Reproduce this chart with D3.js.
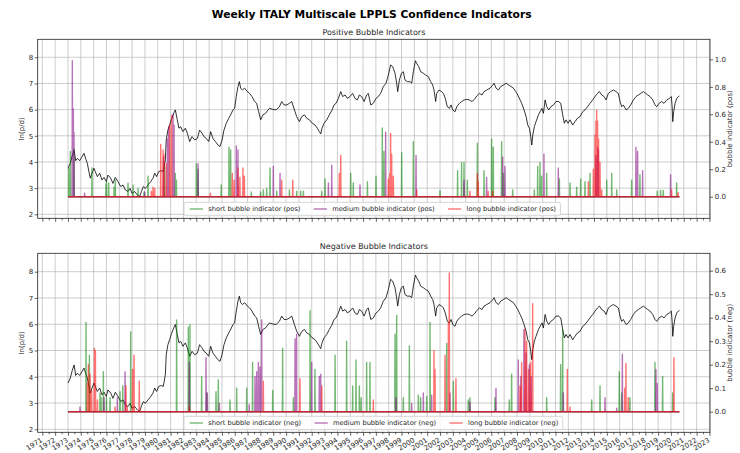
<!DOCTYPE html>
<html><head><meta charset="utf-8">
<script src="https://cdn.jsdelivr.net/npm/d3@7/dist/d3.min.js"></script>
<style>
body{margin:0;background:#fff;}
svg text{font-family:"DejaVu Sans",sans-serif;fill:#262626;}
</style></head><body>
<svg id="c" width="740" height="453"></svg>
<script>
// ---------------- data ----------------
const years = d3.range(1971, 2024);
const leftTicks = [2, 3, 4, 5, 6, 7, 8];
const posTicks = [0, 0.2, 0.4, 0.6, 0.8, 1.0];
const negTicks = [0, 0.1, 0.2, 0.3, 0.4, 0.5, 0.6];
const chartTitle = "Weekly ITALY Multiscale LPPLS Confidence Indicators";
const panelTitles = ["Positive Bubble Indicators", "Negative Bubble Indicators"];
const leftLabel = "ln(p/d)";
const rightLabels = ["bubble indicator (pos)", "bubble indicator (neg)"];
const posLegend = ["short bubble indicator (pos)", "medium bubble indicator (pos)", "long bubble indicator (pos)"];
const negLegend = ["short bubble indicator (neg)", "medium bubble indicator (neg)", "long bubble indicator (neg)"];

// ln(p/d), [year, value]
const price = [
[1973.00,3.76],[1973.18,3.95],[1973.34,4.25],[1973.48,4.45],[1973.60,4.05],[1973.73,4.14],[1973.91,4.05],[1974.07,4.18],[1974.25,4.33],[1974.40,4.10],[1974.51,3.95],[1974.61,3.69],[1974.74,3.38],[1974.87,3.57],[1975.03,3.76],[1975.13,3.63],[1975.29,3.44],[1975.47,3.57],[1975.65,3.31],[1975.81,3.41],[1975.99,3.25],[1976.12,3.50],[1976.33,3.38],[1976.51,3.18],[1976.69,3.41],[1976.90,3.25],[1977.11,3.06],[1977.29,3.12],[1977.47,2.93],[1977.68,2.87],[1977.84,2.99],[1977.99,2.80],[1978.20,2.87],[1978.41,2.74],[1978.59,2.68],[1978.72,2.87],[1978.88,3.06],[1979.03,2.99],[1979.24,3.12],[1979.45,3.25],[1979.63,3.38],[1979.76,3.57],[1979.91,3.44],[1980.07,3.63],[1980.27,3.67],[1980.43,3.63],[1980.59,4.08],[1980.66,4.84],[1980.79,5.22],[1980.92,5.41],[1981.05,5.61],[1981.24,5.86],[1981.37,5.99],[1981.52,5.61],[1981.65,5.29],[1981.78,5.35],[1981.96,5.16],[1982.15,5.29],[1982.30,5.10],[1982.49,4.78],[1982.67,4.97],[1982.88,4.84],[1983.09,4.90],[1983.26,5.22],[1983.45,5.10],[1983.60,4.97],[1983.78,4.90],[1983.97,4.78],[1984.12,5.16],[1984.30,4.90],[1984.49,4.78],[1984.69,4.65],[1984.85,4.59],[1985.01,4.84],[1985.16,5.22],[1985.34,5.48],[1985.53,5.67],[1985.68,5.80],[1985.86,5.99],[1985.99,6.05],[1986.12,6.50],[1986.25,6.88],[1986.36,7.07],[1986.46,6.82],[1986.59,6.75],[1986.77,6.82],[1986.98,6.69],[1987.16,6.62],[1987.34,6.50],[1987.55,6.31],[1987.71,6.24],[1987.86,5.92],[1988.02,5.61],[1988.20,5.80],[1988.40,5.86],
[1988.70,6.05],[1988.96,6.01],[1989.22,5.99],[1989.48,6.11],[1989.66,6.31],[1989.84,6.18],[1990.05,6.18],[1990.26,6.24],[1990.44,6.31],[1990.65,5.99],[1990.83,5.73],[1991.04,5.54],[1991.22,5.73],[1991.43,5.80],[1991.61,5.67],[1991.82,5.61],[1992.00,5.50],[1992.26,5.41],[1992.44,5.29],[1992.59,5.16],[1992.70,5.07],[1992.80,5.29],[1992.96,5.48],[1993.17,5.61],[1993.37,5.80],[1993.56,5.96],[1993.74,6.18],[1993.89,6.24],[1994.08,6.43],[1994.26,6.69],[1994.41,6.50],[1994.60,6.56],[1994.78,6.43],[1994.98,6.50],[1995.19,6.62],[1995.37,6.43],[1995.56,6.37],[1995.71,6.56],[1995.89,6.50],[1996.08,6.31],[1996.28,6.56],[1996.41,6.62],[1996.60,6.18],[1996.80,6.24],[1997.01,6.43],[1997.19,6.50],[1997.37,6.62],[1997.58,6.88],[1997.79,7.01],[1997.97,7.32],[1998.15,7.71],[1998.31,7.64],[1998.49,7.39],[1998.62,7.01],[1998.70,6.69],[1998.83,7.13],[1998.99,7.39],[1999.14,7.45],[1999.27,7.13],[1999.45,7.07],[1999.66,7.07],[1999.79,7.01],[1999.92,7.45],[2000.08,7.87],[2000.18,7.77],[2000.34,7.64],[2000.49,7.45],[2000.70,7.39],[2000.88,7.32],[2001.09,7.26],[2001.27,7.07],[2001.43,6.94],[2001.53,6.75],[2001.66,6.31],[2001.74,6.62],[2001.92,6.75],[2002.13,6.69],[2002.26,6.62],[2002.41,6.43],[2002.57,6.11],[2002.73,6.05],[2002.86,6.18],[2002.99,5.99],[2003.17,5.92],[2003.30,6.11],[2003.51,6.24],[2003.69,6.31],[2003.87,6.37],[2004.08,6.39],[2004.29,6.37],[2004.49,6.31],[2004.68,6.39],[2004.86,6.52],[2005.07,6.62],[2005.27,6.56],[2005.43,6.69],[2005.64,6.75],[2005.90,6.82],
[2006.11,6.94],[2006.21,7.01],[2006.37,6.82],[2006.55,6.75],[2006.73,6.88],[2006.94,6.94],[2007.15,7.01],[2007.35,6.94],[2007.54,6.88],[2007.72,6.82],[2007.90,6.69],[2008.06,6.56],[2008.24,6.37],[2008.37,6.24],[2008.55,5.99],[2008.71,5.73],[2008.84,5.41],[2008.97,5.29],[2009.07,4.97],[2009.15,4.65],[2009.23,5.03],[2009.35,5.35],[2009.48,5.54],[2009.67,5.80],[2009.80,5.92],[2009.95,6.05],[2010.06,5.86],[2010.19,6.37],[2010.32,6.11],[2010.47,5.99],[2010.63,6.11],[2010.84,6.18],[2011.04,6.31],[2011.23,6.31],[2011.41,6.24],[2011.56,5.80],[2011.69,5.48],[2011.82,5.61],[2011.98,5.48],[2012.13,5.61],[2012.34,5.41],[2012.52,5.54],[2012.71,5.67],[2012.91,5.73],[2013.12,5.92],[2013.30,5.99],[2013.49,6.11],[2013.69,6.24],[2013.90,6.37],[2014.08,6.50],[2014.27,6.62],[2014.42,6.69],[2014.60,6.56],[2014.79,6.50],[2014.94,6.37],[2015.12,6.62],[2015.30,6.69],[2015.51,6.75],[2015.72,6.69],[2015.90,6.62],[2016.03,6.31],[2016.16,6.11],[2016.29,6.18],[2016.50,5.99],[2016.68,6.05],[2016.86,6.18],[2017.07,6.37],[2017.28,6.50],[2017.46,6.56],[2017.64,6.62],[2017.85,6.69],[2018.03,6.62],[2018.19,6.56],[2018.37,6.50],[2018.58,6.37],[2018.76,6.18],[2018.89,6.11],[2019.07,6.24],[2019.28,6.31],[2019.46,6.24],[2019.67,6.37],[2019.88,6.43],[2020.03,6.50],[2020.09,6.11],[2020.14,5.54],[2020.21,5.92],[2020.32,6.24],[2020.45,6.43],[2020.58,6.50],[2020.66,6.52]
];

// positive bubble indicators, [year, value]
const posShort = [
[1973.06,0.21],[1973.19,0.33],[1973.47,0.35],[1974.87,0.21],[1975.96,0.09],[1976.00,0.11],[1976.17,0.10],[1976.59,0.07],[1976.69,0.12],[1977.68,0.10],[1978.07,0.085],[1978.46,0.06],[1978.93,0.035],[1979.24,0.15],[1980.54,0.22],[1981.37,0.17],[1981.45,0.12],[1983.01,0.24],[1983.14,0.20],[1984.95,0.085],[1985.55,0.36],[1985.68,0.34],[1987.29,0.035],[1988.02,0.035],[1988.23,0.05],[1988.49,0.06],[1988.75,0.21],[1989.27,0.04],[1990.26,0.05],[1990.83,0.04],[1991.14,0.04],[1991.35,0.04],[1992.78,0.04],[1993.04,0.13],[1995.04,0.17],[1995.24,0.10],[1996.34,0.11],[1997.01,0.15],[1997.50,0.50],[1997.63,0.33],[1999.01,0.32],[1999.92,0.40],[2002.00,0.045],[2003.37,0.19],[2003.68,0.25],[2003.87,0.25],[2004.13,0.12],[2004.91,0.39],[2005.43,0.19],[2006.02,0.42],[2006.15,0.36],[2006.80,0.40],[2006.95,0.17],[2007.66,0.05],[2009.35,0.05],[2009.61,0.22],[2009.79,0.25],[2009.92,0.15],[2010.31,0.17],[2011.30,0.13],[2012.13,0.10],[2012.65,0.07],[2012.96,0.13],[2013.30,0.11],[2013.69,0.17],[2014.99,0.12],[2015.38,0.17],[2015.77,0.05],[2016.93,0.12],[2017.58,0.16],[2018.93,0.04],[2019.19,0.045],[2019.40,0.045],[2020.44,0.10]
];
const posMedium = [
[1973.34,0.99],[1973.42,0.64],[1973.47,0.47],[1974.30,0.025],[1978.98,0.035],[1980.45,0.29],[1980.75,0.42],[1980.85,0.51],[1981.19,0.60],[1981.27,0.52],[1983.14,0.24],[1986.12,0.37],[1986.25,0.34],[1989.01,0.22],[1989.53,0.17],[1993.30,0.10],[1993.56,0.23],[1995.76,0.085],[1997.76,0.47],[2000.13,0.30],[2003.87,0.12],[2005.63,0.14],[2006.88,0.29],[2007.06,0.22],[2010.10,0.31],[2011.22,0.21],[2014.15,0.30],[2014.28,0.36],[2014.34,0.34],[2017.27,0.36],[2017.40,0.33],[2017.79,0.19],[2019.97,0.16]
];
const posLong = [
[1979.50,0.04],[1979.63,0.07],[1979.76,0.06],[1980.23,0.38],[1980.41,0.34],[1980.48,0.31],[1980.67,0.24],[1980.93,0.52],[1981.08,0.59],[1984.10,0.025],[1985.81,0.17],[1985.95,0.12],[1986.25,0.21],[1986.40,0.14],[1986.64,0.21],[1986.75,0.15],[1989.66,0.12],[1990.52,0.12],[1994.15,0.17],[1994.26,0.30],[1997.97,0.13],[1998.08,0.17],[1998.15,0.46],[1998.23,0.31],[1998.36,0.15],[2000.18,0.05],[2004.33,0.04],[2004.91,0.17],[2004.98,0.11],[2005.75,0.04],[2006.10,0.04],[2013.56,0.11],[2013.95,0.20],[2014.08,0.45],[2014.15,0.55],[2014.21,0.63],[2014.28,0.55],[2014.36,0.42],[2014.47,0.25],[2014.60,0.05],[2020.05,0.05],[2020.55,0.03]
];

// negative bubble indicators, [year, value]
const negShort = [
[1974.41,0.38],[1974.67,0.24],[1975.50,0.08],[1975.58,0.06],[1975.76,0.17],[1976.00,0.06],[1976.28,0.06],[1977.06,0.085],[1977.27,0.11],[1977.89,0.34],[1981.47,0.39],[1982.38,0.36],[1982.51,0.37],[1983.42,0.15],[1983.81,0.08],[1984.54,0.085],[1984.72,0.135],[1985.63,0.05],[1986.15,0.10],[1986.93,0.10],[1987.39,0.21],[1988.96,0.09],[1989.73,0.27],[1990.57,0.06],[1991.87,0.43],[1992.25,0.18],[1993.82,0.24],[1994.72,0.30],[1995.19,0.11],[1995.45,0.22],[1995.71,0.11],[1995.85,0.06],[1996.28,0.21],[1996.54,0.21],[1998.49,0.33],[1998.62,0.41],[1999.14,0.06],[1999.61,0.28],[2000.31,0.07],[2000.49,0.06],[2000.96,0.065],[2001.22,0.38],[2002.52,0.29],[2003.04,0.13],[2004.20,0.05],[2004.33,0.06],[2006.28,0.06],[2007.40,0.05],[2007.58,0.16],[2010.31,0.06],[2011.40,0.20],[2011.56,0.35],[2013.82,0.05],[2014.47,0.11],[2015.97,0.17],[2016.16,0.08],[2016.80,0.06],[2018.75,0.21],[2019.35,0.15],[2020.13,0.08]
];
const negMedium = [
[1973.94,0.02],[1975.81,0.06],[1976.85,0.06],[1977.45,0.17],[1982.46,0.21],[1983.76,0.23],[1983.86,0.08],[1984.80,0.035],[1987.13,0.03],[1987.58,0.15],[1987.71,0.17],[1987.84,0.21],[1987.97,0.19],[1988.10,0.39],[1990.70,0.31],[1990.82,0.33],[1992.00,0.21],[1992.59,0.15],[1992.70,0.16],[1998.57,0.06],[1999.79,0.035],[2000.70,0.08],[2001.35,0.07],[2002.78,0.08],[2004.33,0.04],[2006.36,0.10],[2008.10,0.22],[2008.30,0.15],[2008.54,0.35],[2008.70,0.25],[2008.96,0.20],[2009.10,0.15],[2011.61,0.08],[2014.86,0.06],[2015.77,0.015],[2016.21,0.245],[2018.83,0.18],[2018.93,0.12]
];
const negLong = [
[1974.51,0.12],[1974.59,0.20],[1974.72,0.16],[1974.85,0.09],[1975.06,0.27],[1975.14,0.26],[1975.30,0.05],[1976.67,0.02],[1977.52,0.11],[1977.62,0.02],[1978.04,0.18],[1978.15,0.24],[1978.56,0.13],[1982.46,0.02],[1988.23,0.13],[1991.08,0.14],[1992.78,0.11],[1996.80,0.05],[2001.53,0.26],[2001.61,0.18],[2002.39,0.24],[2002.65,0.38],[2002.72,0.59],[2003.24,0.14],[2008.23,0.11],[2008.36,0.21],[2008.62,0.35],[2008.75,0.30],[2008.90,0.18],[2009.06,0.21],[2009.22,0.46],[2011.92,0.18],[2012.13,0.02],[2016.40,0.10],[2016.49,0.205],[2016.67,0.06],[2020.23,0.23]
];

// ---------------- drawing ----------------
const svg = d3.select("#c");
const seriesColors = ["#008000", "#800080", "#ff0000"];
const x = d3.scaleLinear().domain([1970.641, 2023.042]).range([37.7, 710]);
const dataStart = price[0][0], dataEnd = price[price.length - 1][0];
const week = 1 / 52;

function fitFont(text, weight, target) {
  const t = svg.append("text").attr("font-size", 10).attr("font-weight", weight).text(text);
  const w = t.node().getComputedTextLength();
  t.remove();
  return 10 * target / w;
}
const tickFont = 7;
const legendFont = fitFont(posLegend[0], "normal", 92.4);
const subFont = fitFont(panelTitles[0], "normal", 103);
const titleFont = fitFont(chartTitle, "bold", 320);

svg.append("text").attr("x", 371.7).attr("y", 18.3).attr("text-anchor", "middle")
  .attr("font-weight", "bold").attr("font-size", titleFont).style("fill", "#000").text(chartTitle);

function sparseLine(spikes) {
  const s = spikes.slice().sort((a, b) => a[0] - b[0]);
  const pts = [[dataStart, 0]];
  s.forEach((d, i) => {
    const last = pts[pts.length - 1][0];
    if (d[0] - week > last) pts.push([d[0] - week, 0]);
    pts.push(d);
    const nx = s[i + 1];
    if (!nx || nx[0] - d[0] > 2 * week) pts.push([d[0] + week, 0]);
  });
  pts.push([dataEnd, 0]);
  return pts;
}

const panels = [
  {top: 39.3, bottom: 218.3, yl: [1.847, 8.688], yr: [-0.157, 1.146], rt: posTicks,
   title: panelTitles[0], rlabel: rightLabels[0], series: [posShort, posMedium, posLong],
   legend: posLegend, labels: false},
  {top: 253.3, bottom: 432.3, yl: [1.886, 8.70], yr: [-0.0877, 0.674], rt: negTicks,
   title: panelTitles[1], rlabel: rightLabels[1], series: [negShort, negMedium, negLong],
   legend: negLegend, labels: true}
];

panels.forEach((p, pi) => {
  const g = svg.append("g");
  const yL = d3.scaleLinear().domain(p.yl).range([p.bottom, p.top]);
  const yR = d3.scaleLinear().domain(p.yr).range([p.bottom, p.top]);
  const x0 = x.range()[0], x1 = x.range()[1];
  const clipId = "clip" + pi;
  svg.append("clipPath").attr("id", clipId).append("rect")
    .attr("x", x0).attr("y", p.top).attr("width", x1 - x0).attr("height", p.bottom - p.top);

  // grid
  const grid = g.append("g").attr("stroke", "#b0b0b0").attr("stroke-width", 0.8).attr("stroke-opacity", 0.8);
  grid.selectAll("line.v").data(years).join("line").attr("class", "v")
    .attr("x1", d => x(d)).attr("x2", d => x(d)).attr("y1", p.top).attr("y2", p.bottom);
  grid.selectAll("line.h").data(leftTicks).join("line").attr("class", "h")
    .attr("x1", x0).attr("x2", x1).attr("y1", d => yL(d)).attr("y2", d => yL(d));

  // price
  g.append("path").datum(price).attr("clip-path", `url(#${clipId})`)
    .attr("fill", "none").attr("stroke", "#000").attr("stroke-width", 0.8).attr("stroke-linejoin", "round")
    .attr("d", d3.line().x(d => x(d[0])).y(d => yL(d[1])));

  // indicators
  const ln = d3.line().x(d => x(d[0])).y(d => yR(d[1]));
  p.series.forEach((s, i) => {
    g.append("path").datum(sparseLine(s)).attr("clip-path", `url(#${clipId})`)
      .attr("fill", "none").attr("stroke", seriesColors[i]).attr("stroke-opacity", 0.55)
      .attr("stroke-width", 1.4).attr("stroke-linejoin", "round").attr("d", ln);
  });

  // legend
  const lg = g.append("g");
  const boxL = 184, boxB = p.bottom - 2.6, boxH = 13.4, cy = boxB - boxH / 2;
  const box = lg.append("rect").attr("x", boxL).attr("y", boxB - boxH).attr("height", boxH)
    .attr("rx", 2).attr("fill", "#fff").attr("fill-opacity", 0.8).attr("stroke", "#cccccc").attr("stroke-width", 0.8);
  let cx = boxL + 5.7;
  const hl = legendFont * 2, hp = legendFont * 0.8, cs = legendFont * 2;
  p.legend.forEach((lab, i) => {
    lg.append("line").attr("x1", cx).attr("x2", cx + hl).attr("y1", cy).attr("y2", cy)
      .attr("stroke", seriesColors[i]).attr("stroke-opacity", 0.55).attr("stroke-width", 1.4);
    const t = lg.append("text").attr("x", cx + hl + hp).attr("y", cy).attr("dominant-baseline", "central")
      .attr("font-size", legendFont).text(lab);
    cx = cx + hl + hp + t.node().getComputedTextLength() + cs;
  });
  box.attr("width", cx - cs + 4.5 - boxL);

  // frame
  g.append("rect").attr("x", x0).attr("y", p.top).attr("width", x1 - x0).attr("height", p.bottom - p.top)
    .attr("fill", "none").attr("stroke", "#222").attr("stroke-width", 0.8);

  // x axis ticks
  const ax = d3.axisBottom(x).tickValues(years).tickSize(3.5).tickFormat(p.labels ? d3.format("d") : "");
  const axg = g.append("g").attr("transform", `translate(0,${p.bottom})`).call(ax);
  const axm = d3.axisBottom(x).tickValues(years.slice(0, -1).map(d => d + 0.5)).tickSize(2).tickFormat("");
  const axmg = g.append("g").attr("transform", `translate(0,${p.bottom})`).call(axm);
  [axg, axmg].forEach(a => { a.select(".domain").remove(); a.selectAll("line").attr("stroke", "#222").attr("stroke-width", 0.7); });
  if (p.labels) {
    axg.selectAll("text").attr("font-size", tickFont).attr("text-anchor", "end")
      .attr("dominant-baseline", "hanging").attr("dy", null).attr("y", 5).attr("x", -2.2)
      .attr("transform", "rotate(-32,-2.2,5)").style("fill", "#262626");
  }

  // left y axis
  const al = d3.axisLeft(yL).tickValues(leftTicks).tickSize(3).tickPadding(1.5).tickFormat(d3.format("d"));
  const alg = g.append("g").attr("transform", `translate(${x0},0)`).call(al);
  alg.select(".domain").remove();
  alg.selectAll("line").attr("stroke", "#222").attr("stroke-width", 0.7);
  alg.selectAll("text").attr("font-size", tickFont).style("fill", "#262626");

  // right y axis
  const ar = d3.axisRight(yR).tickValues(p.rt).tickSize(3).tickPadding(1.8).tickFormat(d3.format(".1f"));
  const arg = g.append("g").attr("transform", `translate(${x1},0)`).call(ar);
  arg.select(".domain").remove();
  arg.selectAll("line").attr("stroke", "#222").attr("stroke-width", 0.7);
  arg.selectAll("text").attr("font-size", tickFont).style("fill", "#262626");

  // labels
  const my = (p.top + p.bottom) / 2;
  g.append("text").attr("transform", `translate(22.3,${my}) rotate(-90)`).attr("text-anchor", "middle")
    .attr("dominant-baseline", "central").attr("font-size", tickFont).text(leftLabel);
  g.append("text").attr("transform", `translate(730,${my}) rotate(-90)`).attr("text-anchor", "middle")
    .attr("dominant-baseline", "central").attr("font-size", tickFont).text(p.rlabel);
  g.append("text").attr("x", (x0 + x1) / 2).attr("y", p.top - 4.3).attr("text-anchor", "middle")
    .attr("font-size", subFont).text(p.title);
});
</script>
</body></html>
